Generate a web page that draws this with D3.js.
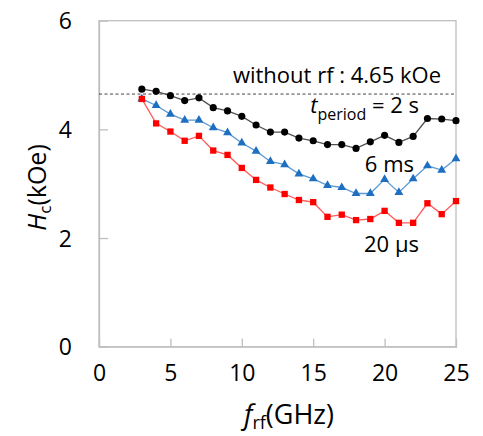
<!DOCTYPE html>
<html><head><meta charset="utf-8">
<script src="https://cdn.jsdelivr.net/npm/d3@7/dist/d3.min.js"></script>
<style>body{margin:0;background:#fff}svg{display:block}text{font-family:"Open Sans",sans-serif;fill:#000}</style>
</head><body>
<script>
const freqs = [3,4,5,6,7,8,9,10,11,12,13,14,15,16,17,18,19,20,21,22,23,24,25];
const hc2s  = [4.74,4.70,4.62,4.53,4.58,4.40,4.34,4.24,4.08,3.95,3.95,3.84,3.79,3.72,3.72,3.65,3.77,3.89,3.76,3.87,4.20,4.19,4.16];
const hc6ms = [4.56,4.44,4.28,4.17,4.17,4.03,3.94,3.75,3.60,3.41,3.35,3.18,3.09,2.97,2.93,2.82,2.82,3.08,2.84,3.09,3.33,3.25,3.46];
const hc20us= [4.56,4.11,3.96,3.79,3.88,3.61,3.53,3.29,3.07,2.93,2.81,2.70,2.66,2.39,2.43,2.33,2.35,2.50,2.28,2.28,2.64,2.44,2.68];
const withoutRf = 4.65;
const xTicks = [0,5,10,15,20,25];
const yTicks = [0,2,4,6];

const W=483,H=436;
const m={l:99,r:456,t:20.7,b:346.7};
const svg=d3.select("body").append("svg").attr("width",W).attr("height",H);
const x=d3.scaleLinear().domain([0,25]).range([m.l,m.r]);
const y=d3.scaleLinear().domain([0,6]).range([m.b,m.t]);
const grey="#bfbfbf";

// frame
svg.append("rect").attr("x",m.l).attr("y",m.t).attr("width",m.r-m.l).attr("height",m.b-m.t)
  .attr("fill","none").attr("stroke",grey).attr("stroke-width",1.3);

// axes with inward ticks
const xAx=svg.append("g").attr("transform",`translate(0,${m.b})`)
  .call(d3.axisBottom(x).tickValues(xTicks).tickSize(-8).tickPadding(18).tickFormat(d3.format("d")));
const yAx=svg.append("g").attr("transform",`translate(${m.l},0)`)
  .call(d3.axisLeft(y).tickValues(yTicks).tickSize(-9).tickPadding(27).tickFormat(d3.format("d")));
[xAx,yAx].forEach(g=>{
  g.select(".domain").attr("stroke",grey).attr("stroke-width",1.3);
  g.selectAll(".tick line").attr("stroke",grey).attr("stroke-width",1.3);
  g.selectAll(".tick text").attr("font-size",23).attr("font-family","'Open Sans',sans-serif").attr("fill","#000");
});
xAx.selectAll(".tick line").filter(d=>d===0||d===25).remove();
yAx.selectAll(".tick line").filter(d=>d===0||d===6).remove();
yAx.selectAll(".tick text").attr("dy","0.36em");

// dashed reference line
svg.append("line").attr("x1",m.l).attr("x2",m.r).attr("y1",y(withoutRf)).attr("y2",y(withoutRf))
  .attr("stroke","#444").attr("stroke-width",1).attr("stroke-dasharray","3,2.5");

const line=d3.line().x((d,i)=>x(freqs[i])).y(d=>y(d));
const series=[
  {v:hc20us, line:"#ff5a5a", fill:"#ff0000", sym:d3.symbolSquare, size:40},
  {v:hc6ms,  line:"#5b9bd5", fill:"#1f6fc0", sym:d3.symbolTriangle, size:34},
  {v:hc2s,   line:"#505050", fill:"#000000", sym:d3.symbolCircle, size:40},
];
const order=[series[1],series[2],series[0]];
order.forEach(s=>{
  svg.append("path").datum(s.v).attr("d",line).attr("fill","none").attr("stroke",s.line).attr("stroke-width",1.3);
});
order.forEach(s=>{
  svg.append("g").selectAll("path").data(s.v).join("path")
    .attr("transform",(d,i)=>`translate(${x(freqs[i])},${y(d)})`)
    .attr("d",d3.symbol().type(s.sym).size(s.size)).attr("fill",s.fill);
});

// annotations
const fs=22;
svg.append("text").attr("x",441).attr("y",83).attr("text-anchor","end").attr("font-size",fs).text("without rf : 4.65 kOe");
const t2=svg.append("text").attr("x",419).attr("y",113).attr("text-anchor","end").attr("font-size",fs);
t2.append("tspan").attr("font-style","italic").text("t");
t2.append("tspan").attr("font-size",16).attr("dy",7).text("period");
t2.append("tspan").attr("dy",-7).text(" = 2 s");
svg.append("text").attr("x",414).attr("y",171.5).attr("text-anchor","end").attr("font-size",fs).text("6 ms");
svg.append("text").attr("x",419).attr("y",251.5).attr("text-anchor","end").attr("font-size",fs).text("20 μs");

// axis titles
const xt=svg.append("text").attr("x",289).attr("y",424).attr("text-anchor","middle").attr("font-size",27);
xt.append("tspan").attr("font-style","italic").text("f");
xt.append("tspan").attr("font-size",18).attr("dy",5).text("rf");
xt.append("tspan").attr("dy",-5).text("(GHz)");
const yt=svg.append("text").attr("transform","translate(46,187.5) rotate(-90)").attr("text-anchor","middle").attr("font-size",25);
yt.append("tspan").attr("font-style","italic").text("H");
yt.append("tspan").attr("font-size",17).attr("dy",5).text("c");
yt.append("tspan").attr("dy",-5).text("(kOe)");
</script>
</body></html>
